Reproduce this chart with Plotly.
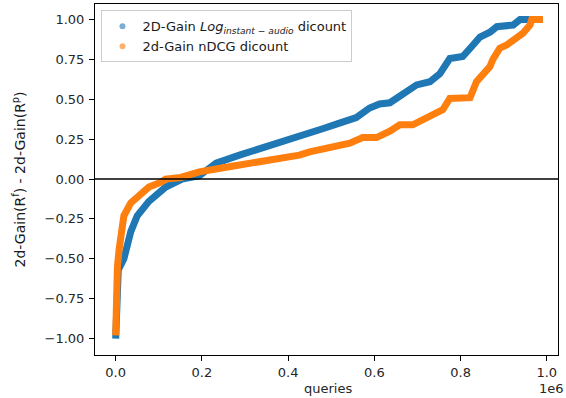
import numpy as np
import plotly.graph_objects as go

# Sorted per-query differences (x in millions of queries)
blue_x = [0.000, 0.001, 0.002, 0.006, 0.019, 0.035, 0.050, 0.077, 0.116, 0.154, 0.194,
          0.233, 0.287, 0.349, 0.403, 0.442, 0.480, 0.519, 0.558, 0.589, 0.612, 0.636,
          0.666, 0.698, 0.729, 0.752, 0.775, 0.805, 0.829, 0.845, 0.868, 0.884, 0.922,
          0.938, 0.990]
blue_y = [-1.00, -0.85, -0.65, -0.57, -0.50, -0.33, -0.23, -0.14, -0.05, 0.00, 0.02,
          0.10, 0.15, 0.20, 0.245, 0.275, 0.315, 0.35, 0.385, 0.445, 0.47, 0.478,
          0.53, 0.59, 0.61, 0.66, 0.755, 0.768, 0.84, 0.89, 0.92, 0.955, 0.965,
          1.00, 1.00]

orange_x = [0.000, 0.001, 0.004, 0.008, 0.019, 0.035, 0.066, 0.077, 0.105, 0.116, 0.151,
            0.194, 0.270, 0.349, 0.426, 0.450, 0.496, 0.543, 0.573, 0.605, 0.636, 0.659,
            0.689, 0.721, 0.759, 0.775, 0.822, 0.837, 0.852, 0.868, 0.875, 0.891, 0.907,
            0.930, 0.945, 0.961, 0.965, 0.991]
orange_y = [-0.98, -0.69, -0.55, -0.44, -0.23, -0.15, -0.075, -0.05, -0.02, 0.00, 0.01,
            0.045, 0.08, 0.11, 0.15, 0.17, 0.195, 0.225, 0.26, 0.26, 0.30, 0.34,
            0.34, 0.385, 0.435, 0.505, 0.51, 0.61, 0.65, 0.705, 0.75, 0.82, 0.84,
            0.89, 0.915, 0.965, 1.00, 1.00]

x_tick_vals = [0.0, 0.2, 0.4, 0.6, 0.8, 1.0]
x_tick_text = ["0.0", "0.2", "0.4", "0.6", "0.8", "1.0"]
y_tick_vals = [1.0, 0.75, 0.5, 0.25, 0.0, -0.25, -0.5, -0.75, -1.0]
y_tick_text = ["1.00", "0.75", "0.50", "0.25", "0.00", "\u22120.25", "\u22120.50", "\u22120.75", "\u22121.00"]

label_blue = "2D-Gain <i>Log</i><sub><i>instant \u2212 audio</i></sub> dicount"
label_orange = "2d-Gain nDCG dicount"

BLUE = "#1f77b4"
ORANGE = "#ff7f0e"
SCALE = 1e6

fig = go.Figure()
fig.add_trace(go.Scatter(x=np.array(blue_x) * SCALE, y=blue_y, mode="lines",
                         line=dict(color=BLUE, width=7), showlegend=False, hoverinfo="skip"))
fig.add_trace(go.Scatter(x=np.array(orange_x) * SCALE, y=orange_y, mode="lines",
                         line=dict(color=ORANGE, width=7), showlegend=False, hoverinfo="skip"))
# legend entries (dot markers, as in the scatter legend)
fig.add_trace(go.Scatter(x=[None], y=[None], mode="markers", name=label_blue,
                         marker=dict(color=BLUE, size=6, opacity=0.6)))
fig.add_trace(go.Scatter(x=[None], y=[None], mode="markers", name=label_orange,
                         marker=dict(color=ORANGE, size=6, opacity=0.6)))

fig.add_shape(type="line", xref="paper", yref="y", x0=0, x1=1, y0=0, y1=0,
              line=dict(color="black", width=1.6), layer="above")

font = "DejaVu Sans, sans-serif"
fig.update_layout(
    width=566, height=398,
    margin=dict(l=95, r=8, t=4, b=43),
    paper_bgcolor="white", plot_bgcolor="white",
    font=dict(family=font, size=13, color="#262626"),
    showlegend=True,
    legend=dict(x=0.014, y=0.982, xanchor="left", yanchor="top",
                bgcolor="rgba(255,255,255,0.8)", bordercolor="#cccccc", borderwidth=1,
                font=dict(family=font, size=13, color="#1a1a1a"), tracegroupgap=0),
    xaxis=dict(range=[-0.048 * SCALE, 1.026 * SCALE],
               tickvals=[v * SCALE for v in x_tick_vals], ticktext=x_tick_text,
               showgrid=False, zeroline=False, showline=True, linecolor="black", linewidth=1,
               mirror=True, ticks="outside", ticklen=5, tickcolor="black",
               tickfont=dict(family=font, size=13, color="#262626")),
    yaxis=dict(range=[-1.103, 1.097], tickvals=y_tick_vals, ticktext=y_tick_text,
               showgrid=False, zeroline=False, showline=True, linecolor="black", linewidth=1,
               mirror=True, ticks="outside", ticklen=5, tickcolor="black",
               ticklabelstandoff=2,
               tickfont=dict(family=font, size=13, color="#262626")),
    annotations=[
        dict(text="queries", xref="paper", yref="paper", x=(328 - 95) / 463, y=-0.095,
             xanchor="center", yanchor="middle", showarrow=False,
             font=dict(family=font, size=13, color="#262626")),
        dict(text="1e6", xref="paper", yref="paper", x=(566 - 95) / 463, y=-0.095,
             xanchor="right", yanchor="middle", showarrow=False,
             font=dict(family=font, size=13, color="#262626")),
        dict(text="2d-Gain(R<sup>f</sup>) - 2d-Gain(R<sup>p</sup>)", xref="paper", yref="paper",
             x=(19 - 95) / 463, y=0.5, xanchor="center", yanchor="middle", textangle=-90,
             showarrow=False, font=dict(family=font, size=14, color="#1a1a1a")),
    ],
)

fig.write_html("out.html", config={"displayModeBar": False},
               post_script="document.body.style.margin='0';document.body.style.overflow='hidden';")
